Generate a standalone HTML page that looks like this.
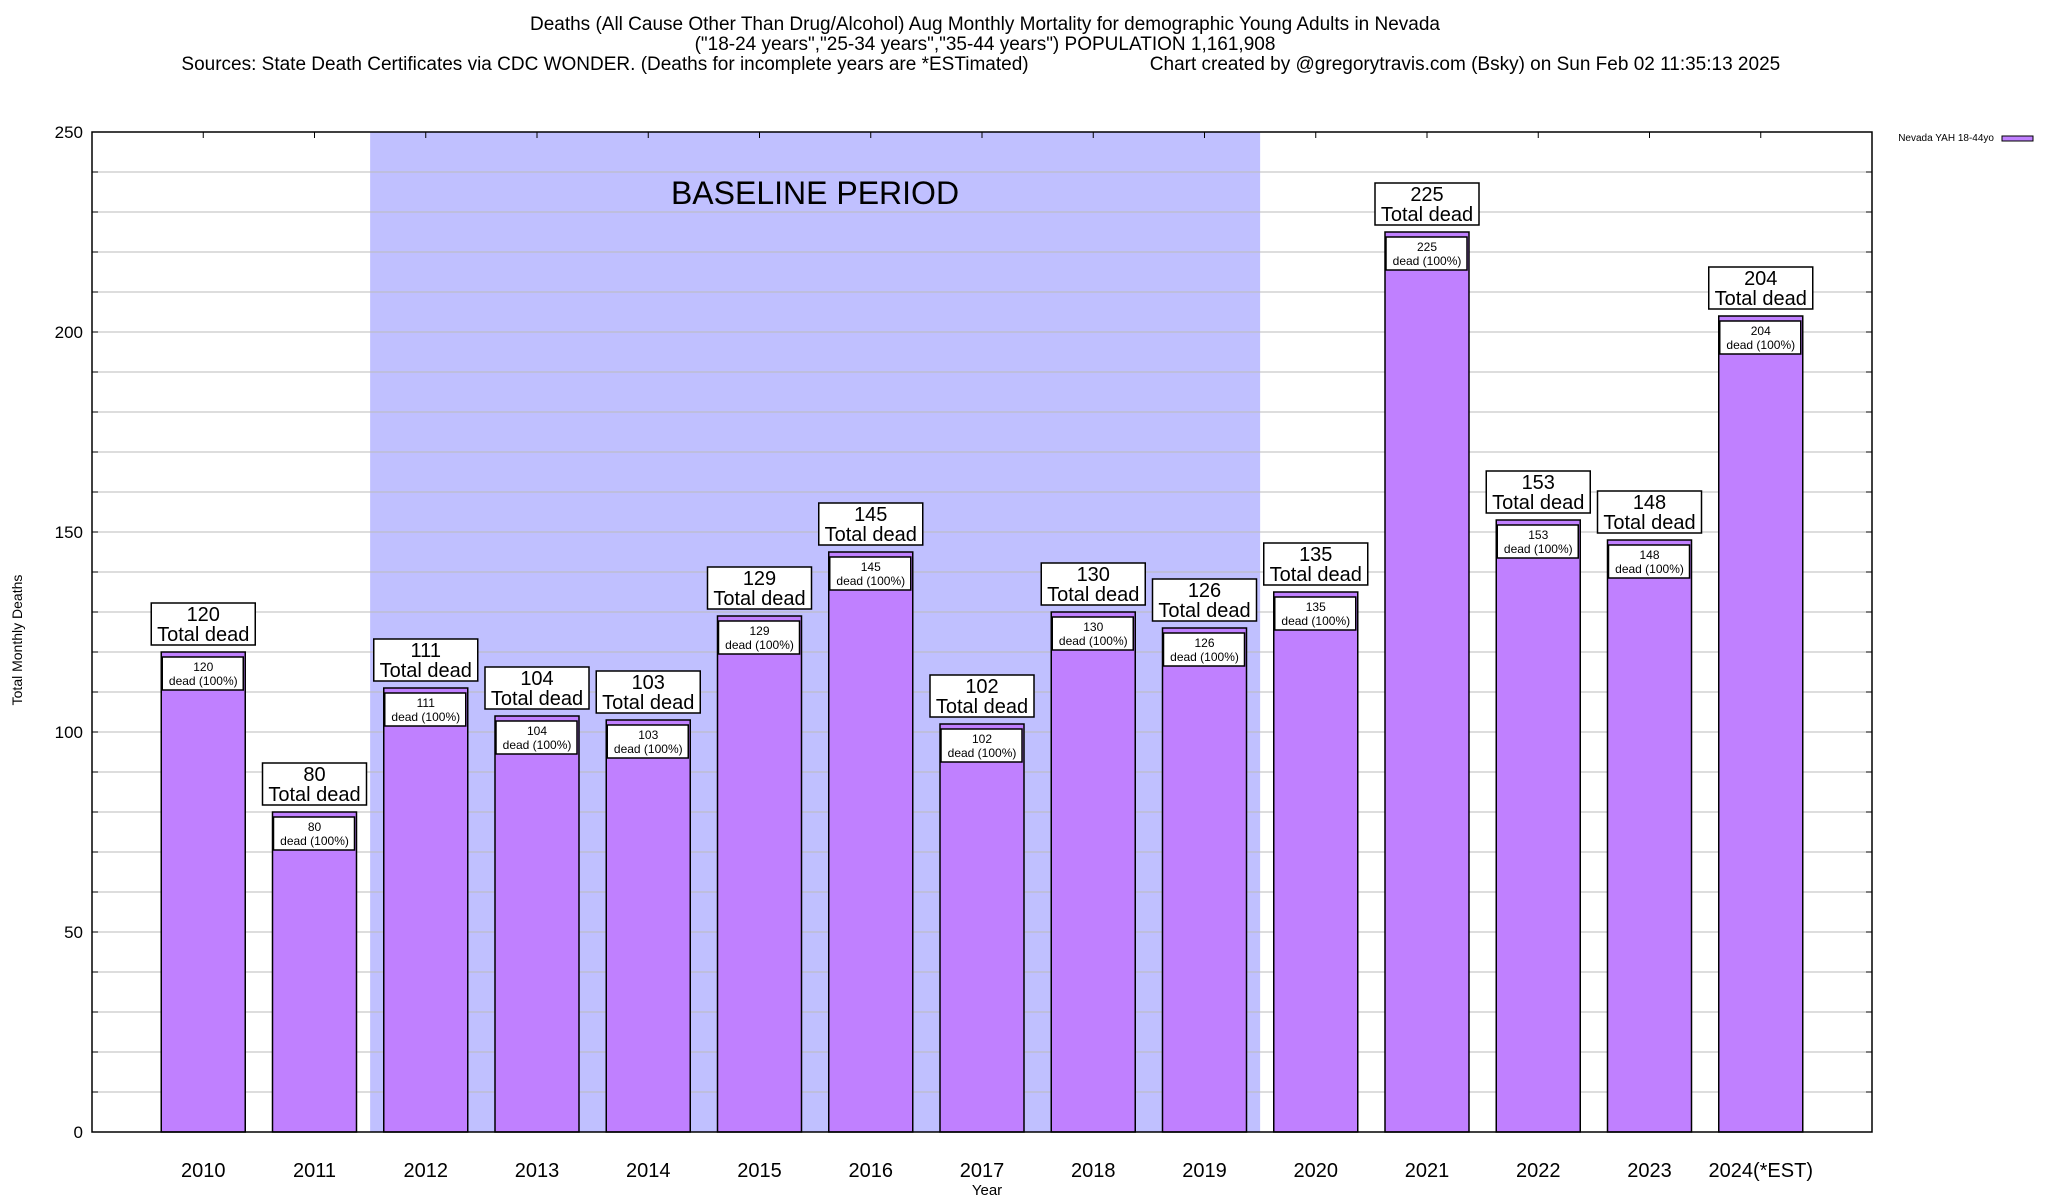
<!DOCTYPE html>
<html><head><meta charset="utf-8"><style>
html,body{margin:0;padding:0;background:#fff;}
svg{display:block;font-family:"Liberation Sans",Arial,sans-serif;}
</style></head><body>
<svg id="chart" width="2048" height="1200" viewBox="0 0 2048 1200">
<g font-size="19" text-anchor="middle">
<text x="985" y="30">Deaths (All Cause Other Than Drug/Alcohol) Aug Monthly Mortality for demographic Young Adults in Nevada</text>
<text x="985" y="50">("18-24 years","25-34 years","35-44 years") POPULATION 1,161,908</text>
<text x="605" y="70">Sources: State Death Certificates via CDC WONDER. (Deaths for incomplete years are *ESTimated)</text>
<text x="1465" y="70">Chart created by @gregorytravis.com (Bsky) on Sun Feb 02 11:35:13 2025</text>
</g>
<g id="plot"></g>
</svg>
<script>
const categories = ["2010","2011","2012","2013","2014","2015","2016","2017","2018","2019","2020","2021","2022","2023","2024(*EST)"];
const values = [120,80,111,104,103,129,145,102,130,126,135,225,153,148,204];
const yTicks = [0,50,100,150,200,250];
const baselineStart = 2, baselineEnd = 9;

const NS="http://www.w3.org/2000/svg";
const L=92,R=1872,T=132,B=1132,yMax=250;
const slot=(R-L)/16;
const xc=i=>L+(i+1)*slot;
const y=v=>B-(v/yMax)*(B-T);
const g=document.getElementById('plot');
function mk(tag,attrs,parent){const e=document.createElementNS(NS,tag);for(const k in attrs)e.setAttribute(k,attrs[k]);(parent||g).appendChild(e);return e;}

let sh=mk('rect',{x:xc(baselineStart)-slot/2,y:T,width:(baselineEnd-baselineStart+1)*slot,height:B-T,fill:'#c0c0ff'});


for(let v=10;v<yMax;v+=10){
  let ln=mk('line',{x1:L,x2:R,y1:y(v),y2:y(v),stroke:'#bbbbbb','stroke-width':1});
  
  
  mk('line',{x1:L,x2:L+6,y1:y(v),y2:y(v),stroke:'#000'});
  mk('line',{x1:R-6,x2:R,y1:y(v),y2:y(v),stroke:'#000'});
}
let bt=mk('text',{x:815,y:204,'font-size':32,'text-anchor':'middle'});
bt.textContent='BASELINE PERIOD';



yTicks.forEach(v=>{
  let t=mk('text',{x:83,y:y(v)+6,'font-size':17,'text-anchor':'end'});
  t.textContent=v;
  
  
});
categories.forEach((c,i)=>{
  const cx=xc(i),v=values[i],top=y(v),bw=84;
  let b=mk('rect',{x:cx-bw/2,y:top,width:bw,height:B-top,fill:'#c080ff',stroke:'#000','stroke-width':1.5});
  
  
  let ib=mk('rect',{x:cx-41,y:top+5,width:81,height:33,fill:'#fff',stroke:'#000','stroke-width':1.5});
  
  
  let t1=mk('text',{x:cx,y:top+19,'font-size':12,'text-anchor':'middle'});t1.textContent=v;
  
  
  let t2=mk('text',{x:cx,y:top+33,'font-size':12,'text-anchor':'middle'});t2.textContent='dead (100%)';
  
  
  let w=104;
  let ob=mk('rect',{x:cx-w/2,y:top-49,width:w,height:42,fill:'#fff',stroke:'#000','stroke-width':1.5});
  
  
  let t3=mk('text',{x:cx,y:top-31,'font-size':20,'text-anchor':'middle'});t3.textContent=v;
  
  
  let t4=mk('text',{x:cx,y:top-11,'font-size':20,'text-anchor':'middle'});t4.textContent='Total dead';
  
  
  let xt=mk('text',{x:cx,y:1177,'font-size':20,'text-anchor':'middle'});xt.textContent=c;
  
  
  mk('line',{x1:cx,x2:cx,y1:T,y2:T+6,stroke:'#000'});
});
let fr=mk('rect',{x:L,y:T,width:R-L,height:B-T,fill:'none',stroke:'#000','stroke-width':1.5});


let yt=mk('text',{x:0,y:0,'font-size':14,'text-anchor':'middle',transform:'translate(22,640) rotate(-90)'});
yt.textContent='Total Monthly Deaths';


let xa=mk('text',{x:987,y:1195,'font-size':15,'text-anchor':'middle'});
xa.textContent='Year';


let lt=mk('text',{x:1994,y:141,'font-size':10,'text-anchor':'end'});
lt.textContent='Nevada YAH 18-44yo';


let ls=mk('rect',{x:2002,y:136,width:31,height:5,fill:'#c080ff',stroke:'#000','stroke-width':1});


</script>
</body></html>
